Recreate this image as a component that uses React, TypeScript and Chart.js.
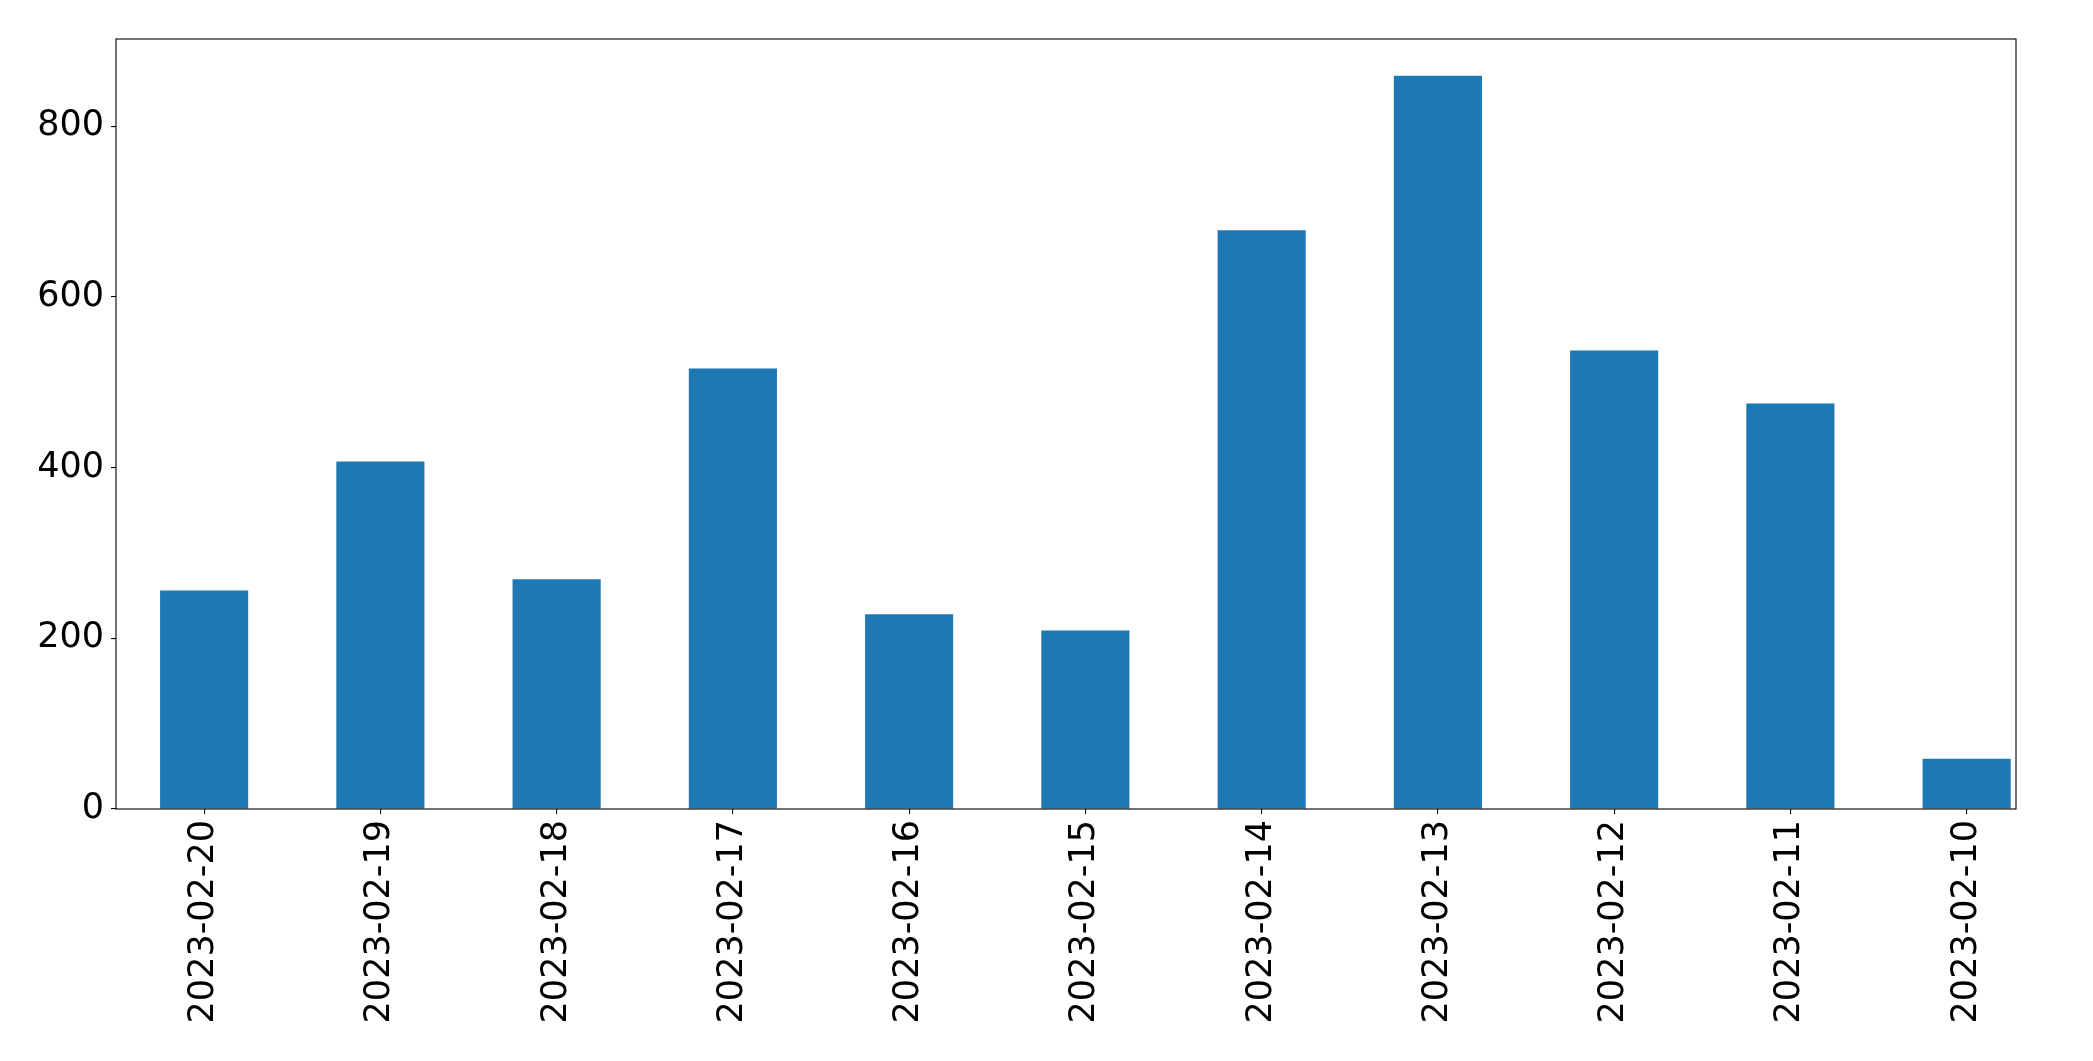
import React, { useEffect, useRef } from "react";
import { Chart, registerables } from "chart.js";

Chart.register(...registerables);

const categories = [
  "2023-02-20",
  "2023-02-19",
  "2023-02-18",
  "2023-02-17",
  "2023-02-16",
  "2023-02-15",
  "2023-02-14",
  "2023-02-13",
  "2023-02-12",
  "2023-02-11",
  "2023-02-10",
];
const values = [256, 407, 269, 516, 228, 209, 678, 859, 537, 475, 59];
const yTicks = [0, 200, 400, 600, 800];
const yMax = 902;
const xMin = -0.5;
const xMax = 10.28;

const frame = {
  id: "frame",
  afterDatasetsDraw(chart: any) {
    const { ctx, chartArea } = chart;
    ctx.save();
    ctx.strokeStyle = "#000";
    ctx.lineWidth = 1.1;
    ctx.strokeRect(chartArea.left, chartArea.top, chartArea.right - chartArea.left, chartArea.bottom - chartArea.top);
    ctx.restore();
  },
};

export default function App() {
  const ref = useRef<HTMLCanvasElement>(null);
  useEffect(() => {
    document.body.style.margin = "0";
    const font = { family: "'DejaVu Sans'", size: 35 };
    const chart = new Chart(ref.current!, {
      type: "bar",
      data: {
        datasets: [
          {
            data: values.map((v, i) => ({ x: i, y: v })),
            backgroundColor: "#1f77b4",
            categoryPercentage: 1,
            barPercentage: 0.5,
          },
        ],
      },
      options: {
        animation: false,
        responsive: false,
        maintainAspectRatio: false,
        layout: { padding: { left: 0, top: 39, right: 77, bottom: 0 } },
        plugins: { legend: { display: false }, tooltip: { enabled: false } },
        scales: {
          x: {
            type: "linear",
            min: xMin,
            max: xMax,
            offset: false,
            grid: {
              display: true,
              offset: false,
              drawOnChartArea: false,
              drawTicks: true,
              tickLength: 5,
              color: "#000",
              lineWidth: 1.1,
            },
            border: { display: false },
            ticks: {
              font,
              color: "#000",
              maxRotation: 90,
              minRotation: 90,
              autoSkip: false,
              padding: 6,
              callback: (v: any) => categories[v] ?? "",
            },
            afterBuildTicks: (s: any) => {
              s.ticks = categories.map((_, i) => ({ value: i }));
            },
            afterFit: (s: any) => {
              s.height = 252;
            },
          },
          y: {
            min: 0,
            max: yMax,
            grid: { display: true, drawOnChartArea: false, drawTicks: true, tickLength: 5, color: "#000", lineWidth: 1.1 },
            border: { display: false },
            ticks: { font, color: "#000", padding: 7 },
            afterBuildTicks: (s: any) => {
              s.ticks = yTicks.map((v) => ({ value: v }));
            },
            afterFit: (s: any) => {
              s.width = 116;
            },
          },
        },
      },
      plugins: [frame],
    });
    return () => chart.destroy();
  }, []);
  return (
    <div style={{ position: "absolute", left: 0, top: 0, width: 2093, height: 1061, background: "#fff" }}>
      <canvas ref={ref} width={2093} height={1061} style={{ width: 2093, height: 1061 }} />
    </div>
  );
}
